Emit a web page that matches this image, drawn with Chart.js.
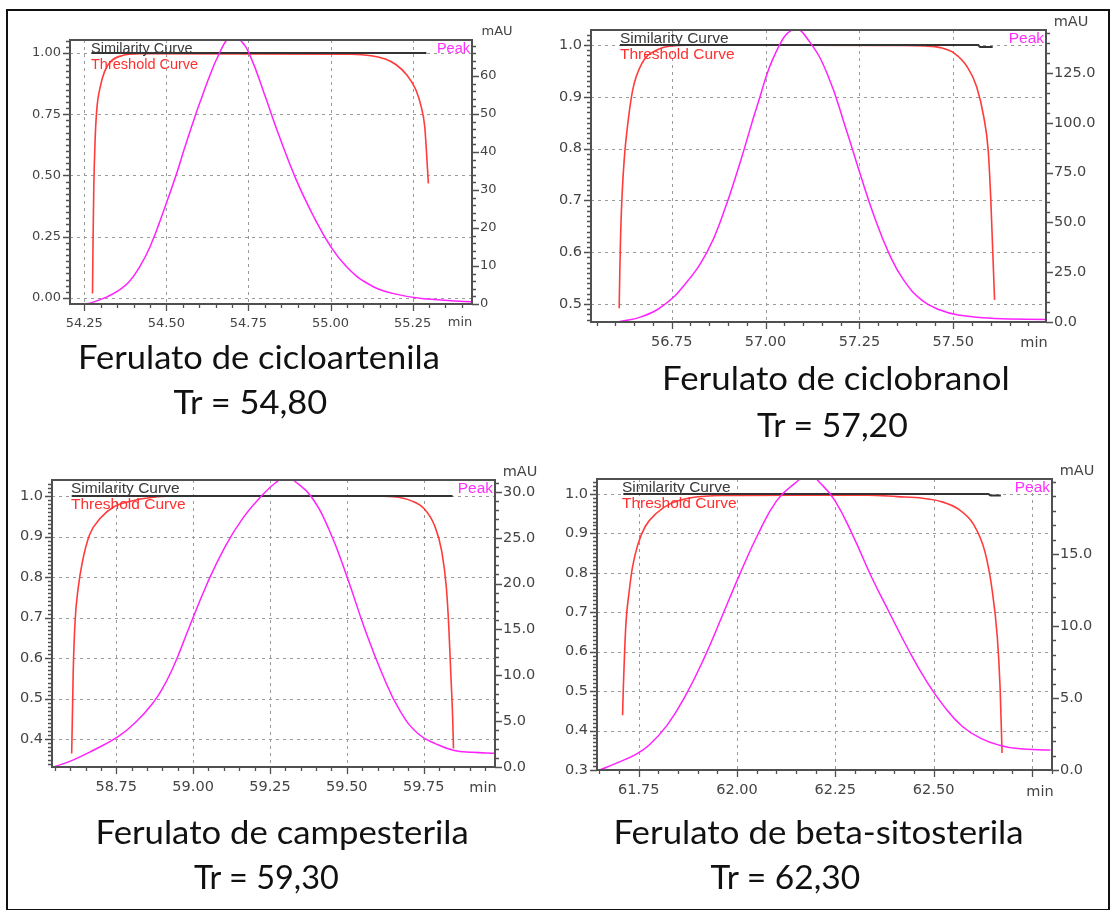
<!DOCTYPE html>
<html>
<head>
<meta charset="utf-8">
<script src="https://cdn.jsdelivr.net/npm/chart.js@4.4.1/dist/chart.umd.min.js"></script>
<style>
  html, body { margin: 0; padding: 0; background: #fff; }
  #page { position: relative; width: 1111px; height: 910px; overflow: hidden; }
  #border { position: absolute; left: 6px; top: 9px; width: 1100px; height: 898px; border: 2px solid #111; }
  canvas { position: absolute; left: 0; top: 0; }
  .cap { position: absolute; font-family: Lato, "Open Sans", sans-serif; font-size: 32px; line-height: 32px;
         color: #111; white-space: nowrap; transform-origin: 50% 50%; }
</style>
</head>
<body>
<div id="page">
  <div id="border"></div>
  <canvas id="c1" width="1111" height="910"></canvas>
  <canvas id="c2" width="1111" height="910"></canvas>
  <canvas id="c3" width="1111" height="910"></canvas>
  <canvas id="c4" width="1111" height="910"></canvas>

  <div class="cap" data-cx="259" data-base="367" data-w="362">Ferulato de cicloartenila</div>
  <div class="cap" data-cx="250" data-base="412" data-w="154">Tr = 54,80</div>
  <div class="cap" data-cx="836" data-base="388" data-w="348">Ferulato de ciclobranol</div>
  <div class="cap" data-cx="832" data-base="435" data-w="151">Tr = 57,20</div>
  <div class="cap" data-cx="282" data-base="842" data-w="373">Ferulato de campesterila</div>
  <div class="cap" data-cx="266" data-base="887" data-w="145">Tr = 59,30</div>
  <div class="cap" data-cx="818" data-base="842" data-w="410">Ferulato de beta-sitosterila</div>
  <div class="cap" data-cx="785" data-base="887" data-w="150">Tr = 62,30</div>
</div>
<script>
// ---- panel 1 : ferulato de cicloartenila ----
const timeTicks1 = [54.25, 54.5, 54.75, 55.0, 55.25];
const timeLabels1 = ["54.25", "54.50", "54.75", "55.00", "55.25"];
const simTicks1 = [0, 0.25, 0.5, 0.75, 1.0];
const mauTicks1 = [0, 10, 20, 30, 40, 50, 60];
// [min, mAU]
const peak1 = [
  [54.245, 0.0], [54.27, 0.3], [54.32, 1.9], [54.35, 3.3], [54.386, 5.8], [54.42, 10.0], [54.451, 15.2],
  [54.497, 25.8], [54.53, 34.0], [54.559, 42.0], [54.614, 55.9], [54.668, 67.2], [54.70, 70.5],
  [54.725, 69.5], [54.755, 65.4], [54.798, 55.4], [54.842, 44.6], [54.896, 32.6], [54.95, 22.8],
  [55.0, 15.2], [55.048, 9.9], [55.113, 5.4], [55.189, 2.8], [55.298, 1.3], [55.43, 0.6]
];
// [min, similarity]
const threshold1 = [
  [54.275, 0.018], [54.277, 0.263], [54.279, 0.454], [54.283, 0.645], [54.288, 0.768],
  [54.299, 0.864], [54.312, 0.925], [54.331, 0.966], [54.364, 0.989], [54.418, 0.997],
  [55.064, 0.995], [55.124, 0.989], [55.167, 0.975], [55.2, 0.952], [55.232, 0.911],
  [55.26, 0.85], [55.276, 0.782], [55.287, 0.70], [55.292, 0.604], [55.298, 0.468]
];
const similarity1 = [[54.272, 1.0], [55.292, 1.0]];

// ---- panel 2 : ferulato de ciclobranol ----
const timeTicks2 = [56.75, 57.0, 57.25, 57.5];
const timeLabels2 = ["56.75", "57.00", "57.25", "57.50"];
const simTicks2 = [0.5, 0.6, 0.7, 0.8, 0.9, 1.0];
const mauTicks2 = [0, 25, 50, 75, 100, 125];
const peak2 = [
  [56.612, 0.2], [56.67, 2.7], [56.729, 8.5], [56.787, 19.3], [56.845, 35.5], [56.884, 52.7],
  [56.932, 80], [56.98, 110], [57.029, 136], [57.077, 147], [57.116, 141], [57.165, 124.3],
  [57.213, 97.7], [57.252, 74.3], [57.29, 52.7], [57.329, 34.3], [57.368, 21], [57.416, 11],
  [57.465, 6], [57.513, 3.5], [57.61, 1.8], [57.746, 1.3]
];
const threshold2 = [
  [56.61, 0.492], [56.612, 0.572], [56.614, 0.636], [56.618, 0.714], [56.624, 0.784],
  [56.632, 0.842], [56.646, 0.913], [56.671, 0.965], [56.709, 0.99], [56.767, 0.999],
  [56.811, 1.0], [57.349, 0.999], [57.426, 0.998], [57.465, 0.995], [57.503, 0.984],
  [57.537, 0.958], [57.562, 0.92], [57.581, 0.862], [57.593, 0.797], [57.6, 0.701],
  [57.605, 0.604], [57.61, 0.508]
];
const similarity2 = [[56.612, 1.0], [57.566, 1.0], [57.572, 0.996], [57.605, 0.996]];

// ---- panel 3 : ferulato de campesterila ----
const timeTicks3 = [58.75, 59.0, 59.25, 59.5, 59.75];
const timeLabels3 = ["58.75", "59.00", "59.25", "59.50", "59.75"];
const simTicks3 = [0.4, 0.5, 0.6, 0.7, 0.8, 0.9, 1.0];
const mauTicks3 = [0, 5, 10, 15, 20, 25, 30];
const peak3 = [
  [58.546, 0.0], [58.605, 0.7], [58.674, 1.8], [58.756, 3.3], [58.814, 4.9], [58.872, 7.1],
  [58.901, 8.6], [58.93, 10.5], [58.959, 12.8], [58.988, 15.3], [59.047, 20.1], [59.105, 24.1],
  [59.163, 27.2], [59.221, 29.5], [59.268, 31.0], [59.303, 31.6], [59.337, 31.0], [59.384, 29.5],
  [59.442, 25.9], [59.5, 20.8], [59.559, 15.0], [59.617, 10.0], [59.675, 6.0], [59.733, 3.6],
  [59.791, 2.5], [59.849, 1.8], [59.908, 1.6], [59.982, 1.5]
];
const threshold3 = [
  [58.605, 0.365], [58.607, 0.443], [58.61, 0.566], [58.616, 0.69], [58.626, 0.772],
  [58.64, 0.838], [58.663, 0.904], [58.698, 0.945], [58.744, 0.974], [58.814, 0.99],
  [58.884, 0.998], [58.942, 1.0], [59.57, 1.0], [59.652, 0.998], [59.71, 0.988],
  [59.75, 0.97], [59.785, 0.928], [59.809, 0.863], [59.824, 0.772], [59.832, 0.673],
  [59.838, 0.566], [59.844, 0.459], [59.847, 0.377]
];
const similarity3 = [[58.605, 1.0], [59.844, 1.0]];

// ---- panel 4 : ferulato de beta-sitosterila ----
const timeTicks4 = [61.75, 62.0, 62.25, 62.5, 62.75];
const timeLabels4 = ["61.75", "62.00", "62.25", "62.50", ""];
const simTicks4 = [0.3, 0.4, 0.5, 0.6, 0.7, 0.8, 0.9, 1.0];
const mauTicks4 = [0, 5, 10, 15];
const peak4 = [
  [61.651, 0.0], [61.692, 0.46], [61.739, 1.03], [61.776, 1.72], [61.822, 3.1], [61.869, 5.16],
  [61.915, 7.68], [61.962, 10.67], [62.008, 13.65], [62.054, 16.4], [62.101, 18.7], [62.147, 19.9],
  [62.184, 20.5], [62.212, 19.9], [62.249, 18.7], [62.296, 16.2], [62.342, 13.4], [62.388, 10.9],
  [62.435, 8.4], [62.481, 6.2], [62.527, 4.4], [62.574, 3.0], [62.62, 2.2], [62.667, 1.72],
  [62.713, 1.49], [62.797, 1.38]
];
const threshold4 = [
  [61.709, 0.439], [61.711, 0.51], [61.714, 0.594], [61.718, 0.678], [61.725, 0.746],
  [61.734, 0.813], [61.748, 0.872], [61.767, 0.918], [61.795, 0.951], [61.832, 0.976],
  [61.887, 0.991], [61.962, 0.996], [62.147, 0.997], [62.333, 0.997], [62.407, 0.993],
  [62.472, 0.989], [62.518, 0.981], [62.565, 0.96], [62.602, 0.922], [62.63, 0.855],
  [62.648, 0.762], [62.662, 0.636], [62.669, 0.51], [62.674, 0.343]
];
const similarity4 = [[61.711, 1.0], [62.639, 1.0], [62.645, 0.996], [62.671, 0.996]];

// layout of the four panels (plot frame in page pixels)
const panels = [
  { id: "c1", frame: [70, 40, 472, 304], x: [54.2065, 55.431], yL: [-0.0245, 1.053], yR: [0, 69.5],
    xTicks: timeTicks1, xLabels: timeLabels1, yLTicks: simTicks1, yLDigits: 2, yRTicks: mauTicks1, yRDigits: 0,
    xMinor: 0.05, yLMinor: 0.025, yRMinor: 2, font: 13, legendFont: 14.5, legendX: 21, labelDy: 19,
    peak: peak1, threshold: threshold1, similarity: similarity1 },
  { id: "c2", frame: [591, 30, 1046, 322], x: [56.535, 57.747], yL: [0.4653, 1.029], yR: [0, 146.6],
    xTicks: timeTicks2, xLabels: timeLabels2, yLTicks: simTicks2, yLDigits: 1, yRTicks: mauTicks2, yRDigits: 1,
    xMinor: 0.05, yLMinor: 0.01, yRMinor: 5, font: 14.5, legendFont: 15.5, legendX: 29, labelDy: 21,
    peak: peak2, threshold: threshold2, similarity: similarity2 },
  { id: "c3", frame: [52, 480, 495, 767], x: [58.541, 59.982], yL: [0.3316, 1.0395], yR: [0, 31.3],
    xTicks: timeTicks3, xLabels: timeLabels3, yLTicks: simTicks3, yLDigits: 1, yRTicks: mauTicks3, yRDigits: 1,
    xMinor: 0.05, yLMinor: 0.01, yRMinor: 1, font: 14.5, legendFont: 15.5, legendX: 19, labelDy: 21,
    peak: peak3, threshold: threshold3, similarity: similarity3 },
  { id: "c4", frame: [597, 479, 1052, 770], x: [61.644, 62.801], yL: [0.3, 1.0378], yR: [0, 20.2],
    xTicks: timeTicks4, xLabels: timeLabels4, yLTicks: simTicks4, yLDigits: 1, yRTicks: mauTicks4, yRDigits: 1,
    xMinor: 0.05, yLMinor: 0.01, yRMinor: 1, font: 14.5, legendFont: 15.5, legendX: 25, labelDy: 22,
    peak: peak4, threshold: threshold4, similarity: similarity4 }
];

const LEFT_W = 44, RIGHT_W = 52, BOTTOM_H = 30;

const decor = {
  id: "decor",
  beforeDatasetsDraw(chart, args, o) {
    const { ctx, chartArea: a, scales } = chart;
    ctx.save();
    ctx.strokeStyle = "#9a9a9a";
    ctx.lineWidth = 1;
    ctx.setLineDash([3, 4]);
    scales.x.ticks.forEach(t => {
      const px = Math.round(scales.x.getPixelForValue(t.value)) + 0.5;
      ctx.beginPath(); ctx.moveTo(px, a.top); ctx.lineTo(px, a.bottom); ctx.stroke();
    });
    scales.yL.ticks.forEach(t => {
      const py = Math.round(scales.yL.getPixelForValue(t.value)) + 0.5;
      ctx.beginPath(); ctx.moveTo(a.left, py); ctx.lineTo(a.right, py); ctx.stroke();
    });
    ctx.restore();
  },
  afterDatasetsDraw(chart, args, o) {
    const { ctx, chartArea: a, scales } = chart;
    ctx.save();
    ctx.strokeStyle = "#505050";
    ctx.lineWidth = 2;
    ctx.strokeRect(a.left, a.top, a.right - a.left, a.bottom - a.top);

    // major + minor tick marks
    ctx.lineWidth = 1.3;
    const marks = (scale, step, draw) => {
      const n0 = Math.ceil(scale.min / step - 1e-6), n1 = Math.floor(scale.max / step + 1e-6);
      for (let n = n0; n <= n1; n++) {
        const v = n * step;
        const major = scale.ticks.some(t => Math.abs(t.value - v) < step / 10);
        draw(Math.round(scale.getPixelForValue(v)) + 0.5, major ? 7 : 4);
      }
    };
    ctx.beginPath();
    marks(scales.x, o.xMinor, (p, len) => { ctx.moveTo(p, a.bottom); ctx.lineTo(p, a.bottom + len); });
    marks(scales.yL, o.yLMinor, (p, len) => { ctx.moveTo(a.left - len, p); ctx.lineTo(a.left, p); });
    marks(scales.yR, o.yRMinor, (p, len) => { ctx.moveTo(a.right, p); ctx.lineTo(a.right + len, p); });
    ctx.stroke();

    // inline legend
    ctx.textBaseline = "middle";
    ctx.font = o.legendFont + 'px "Liberation Sans", Arial, sans-serif';
    ctx.textAlign = "left";
    ctx.fillStyle = "#3a3a3a";
    ctx.fillText("Similarity Curve", a.left + o.legendX, a.top + 9);
    ctx.fillStyle = "#ff3030";
    ctx.fillText("Threshold Curve", a.left + o.legendX, a.top + 25);
    ctx.textAlign = "right";
    ctx.fillStyle = "#ff30ff";
    ctx.fillText("Peak", a.right - 2, a.top + 9);

    // axis units
    ctx.font = o.font + 'px "DejaVu Sans", sans-serif';
    ctx.fillStyle = "#444";
    ctx.textAlign = "center";
    ctx.fillText("min", a.right - 12, a.bottom + o.labelDy);
    ctx.fillText("mAU", a.right + 25, a.top - 8);
    ctx.restore();
  }
};

Chart.defaults.animation = false;

panels.forEach(p => {
  const [L, T, R, B] = p.frame;
  const tickFont = { family: "DejaVu Sans", size: p.font };
  const line = (data, color, width, axis, smooth) => ({
    data: data.map(([x, y]) => ({ x, y })),
    yAxisID: axis,
    borderColor: color,
    borderWidth: width,
    pointRadius: 0,
    fill: false,
    tension: smooth ? 0.45 : 0,
    cubicInterpolationMode: smooth ? "default" : "monotone"
  });
  new Chart(document.getElementById(p.id), {
    type: "line",
    data: {
      datasets: [
        line(p.peak, "#ff22ff", 1.5, "yR", true),
        line(p.similarity, "#333333", 2, "yL", false),
        line(p.threshold, "#ff3b3b", 1.6, "yL", false)
      ]
    },
    options: {
      responsive: false,
      devicePixelRatio: 1,
      layout: { padding: { left: L - LEFT_W, right: 1111 - R - RIGHT_W, top: T, bottom: 910 - B - BOTTOM_H } },
      scales: {
        x: {
          type: "linear", min: p.x[0], max: p.x[1],
          grid: { display: false, drawTicks: false }, border: { display: false },
          afterBuildTicks: s => { s.ticks = p.xTicks.map(v => ({ value: v })); },
          afterFit: s => { s.height = BOTTOM_H; },
          ticks: { font: tickFont, color: "#444", padding: 12, maxRotation: 0, autoSkip: false,
                   callback: (v, i) => p.xLabels[i] }
        },
        yL: {
          type: "linear", position: "left", min: p.yL[0], max: p.yL[1],
          grid: { display: false, drawTicks: false }, border: { display: false },
          afterBuildTicks: s => { s.ticks = p.yLTicks.map(v => ({ value: v })); },
          afterFit: s => { s.width = LEFT_W; },
          ticks: { font: tickFont, color: "#444", padding: 9, callback: v => Number(v).toFixed(p.yLDigits) }
        },
        yR: {
          type: "linear", position: "right", min: p.yR[0], max: p.yR[1],
          grid: { display: false, drawTicks: false }, border: { display: false },
          afterBuildTicks: s => { s.ticks = p.yRTicks.map(v => ({ value: v })); },
          afterFit: s => { s.width = RIGHT_W; },
          ticks: { font: tickFont, color: "#444", padding: 8, callback: v => Number(v).toFixed(p.yRDigits) }
        }
      },
      plugins: {
        legend: { display: false },
        tooltip: { enabled: false },
        decor: p
      }
    },
    plugins: [decor]
  });
});

// captions: fit each text to its measured width in the figure
document.querySelectorAll(".cap").forEach(el => {
  const w = el.offsetWidth;
  el.style.left = (+el.dataset.cx - w / 2) + "px";
  el.style.top = (+el.dataset.base - 26) + "px";
  el.style.transform = "scaleX(" + (+el.dataset.w / w).toFixed(3) + ")";
});
</script>
</body>
</html>
